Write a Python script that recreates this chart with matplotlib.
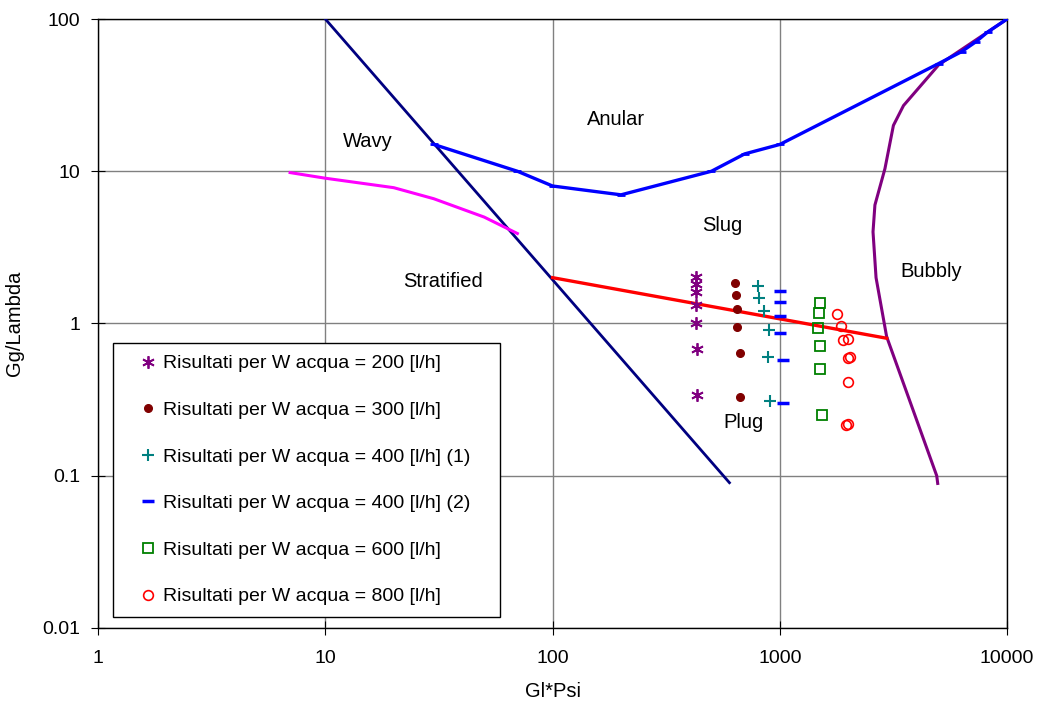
import numpy as np
import matplotlib
matplotlib.use("Agg")
import matplotlib.pyplot as plt
from matplotlib.ticker import FixedLocator, FuncFormatter, NullLocator

plt.rcParams['font.family'] = ['Liberation Sans', 'DejaVu Sans']

# regime boundaries
strat_x = [10, 600]
strat_y = [100, 0.09]

wavy_x = [7, 10, 20, 30, 50, 70]
wavy_y = [9.8, 9.0, 7.8, 6.6, 5.0, 3.9]

anular_x = [30, 70, 100, 200, 500, 700, 1000, 5000, 6300, 7300, 8200, 10000]
anular_y = [15, 10, 8, 7, 10, 13, 15, 51, 61, 71, 82, 100]

plug_x = [100, 2950]
plug_y = [2.0, 0.8]

bubbly_x = [4950, 4900, 2950, 2650, 2570, 2620, 2900, 3160, 3500, 5000, 10000]
bubbly_y = [0.089, 0.1, 0.82, 2.0, 4.0, 6.0, 10.4, 20, 27, 50, 100]

# measurements
w200_x = [428, 428, 428, 428, 428, 432, 432]
w200_y = [2.03, 1.82, 1.62, 1.33, 1.0, 0.68, 0.34]
w300_x = [635, 643, 648, 650, 668, 668]
w300_y = [1.84, 1.54, 1.25, 0.95, 0.64, 0.33]
w400a_x = [805, 810, 855, 897, 885, 906]
w400a_y = [1.75, 1.46, 1.20, 0.90, 0.60, 0.31]
w400b_x = [1000, 1000, 1000, 1000, 1030, 1030]
w400b_y = [1.63, 1.38, 1.12, 0.87, 0.58, 0.30]
w600_x = [1503, 1490, 1478, 1503, 1503, 1540]
w600_y = [1.37, 1.18, 0.94, 0.715, 0.50, 0.251]
w800_x = [1780, 1858, 1897, 1996, 1996, 2037, 1990, 1960, 1990]
w800_y = [1.15, 0.97, 0.78, 0.79, 0.59, 0.60, 0.41, 0.215, 0.218]

labels = ["Risultati per W acqua = 200 [l/h]",
          "Risultati per W acqua = 300 [l/h]",
          "Risultati per W acqua = 400 [l/h] (1)",
          "Risultati per W acqua = 400 [l/h] (2)",
          "Risultati per W acqua = 600 [l/h]",
          "Risultati per W acqua = 800 [l/h]"]

fig = plt.figure(figsize=(10.43, 7.04), dpi=100)
ax = fig.add_axes([0.094, 0.108, 0.8716, 0.865])
ax.set_xscale('log')
ax.set_yscale('log')

ax.plot(strat_x, strat_y, color='#000080', lw=2.0, zorder=3)
ax.plot(wavy_x, wavy_y, color='#ff00ff', lw=2.2, zorder=3)
ax.plot(bubbly_x, bubbly_y, color='#800080', lw=2.2, zorder=3)
ax.plot(anular_x, anular_y, color='#0000ff', lw=2.4, marker='_', ms=6, mew=2, zorder=3)
ax.plot(plug_x, plug_y, color='#ff0000', lw=2.4, zorder=3)

ax.plot(w200_x, w200_y, ls='none', marker=(6, 2, 0), ms=9, mew=1.3, color='#800080', label=labels[0], zorder=4)
ax.plot(w300_x, w300_y, ls='none', marker='o', ms=5.5, color='#800000', label=labels[1], zorder=4)
ax.plot(w400a_x, w400a_y, ls='none', marker='+', ms=9, mew=1.5, color='#008080', label=labels[2], zorder=4)
ax.plot(w400b_x, w400b_y, ls='none', marker='_', ms=8, mew=2.5, color='#0000ff', label=labels[3], zorder=4)
ax.plot(w600_x, w600_y, ls='none', marker='s', ms=7, mew=1.3, mfc='none', color='#008000', label=labels[4], zorder=4)
ax.plot(w800_x, w800_y, ls='none', marker='o', ms=7, mew=1.2, mfc='none', color='#ff0000', label=labels[5], zorder=4)

for txt, x, y in [("Wavy", 15.3, 15.6), ("Anular", 190, 22), ("Slug", 557, 4.43),
                  ("Stratified", 33, 1.9), ("Bubbly", 4630, 2.18), ("Plug", 689, 0.225)]:
    ax.text(x, y, txt, ha='center', va='center', fontsize=14.5)

ax.set_xlim(1, 10000)
ax.set_ylim(0.01, 100)
fmt = FuncFormatter(lambda v, p: '{:g}'.format(v))
ax.xaxis.set_major_locator(FixedLocator([1, 10, 100, 1000, 10000]))
ax.yaxis.set_major_locator(FixedLocator([0.01, 0.1, 1, 10, 100]))
ax.xaxis.set_major_formatter(fmt)
ax.yaxis.set_major_formatter(fmt)
ax.xaxis.set_minor_locator(NullLocator())
ax.yaxis.set_minor_locator(NullLocator())
ax.tick_params(direction='inout', length=10, labelsize=14)
ax.tick_params(axis='x', pad=11)
ax.tick_params(axis='y', pad=8)
ax.grid(True, color='#808080', lw=1)
ax.set_axisbelow(True)
for s in ax.spines.values():
    s.set_color('black')
    s.set_linewidth(1)

ax.set_xlabel("Gl*Psi", fontsize=14.5)
ax.set_ylabel("Gg/Lambda", fontsize=14.5)
ax.xaxis.set_label_coords(0.5, -0.088)
ax.yaxis.set_label_coords(-0.081, 0.5)

leg = ax.legend(loc='lower left', bbox_to_anchor=(0.0165, 0.018, 0.4255, 0.45), mode='expand',
                fontsize=14, labelspacing=1.49, handlelength=2.4, handletextpad=-0.45,
                borderpad=0.6, fancybox=False, framealpha=1, edgecolor='black',
                borderaxespad=0, numpoints=1)
leg.get_frame().set_linewidth(1)

fig.savefig("out.png", dpi=100)
